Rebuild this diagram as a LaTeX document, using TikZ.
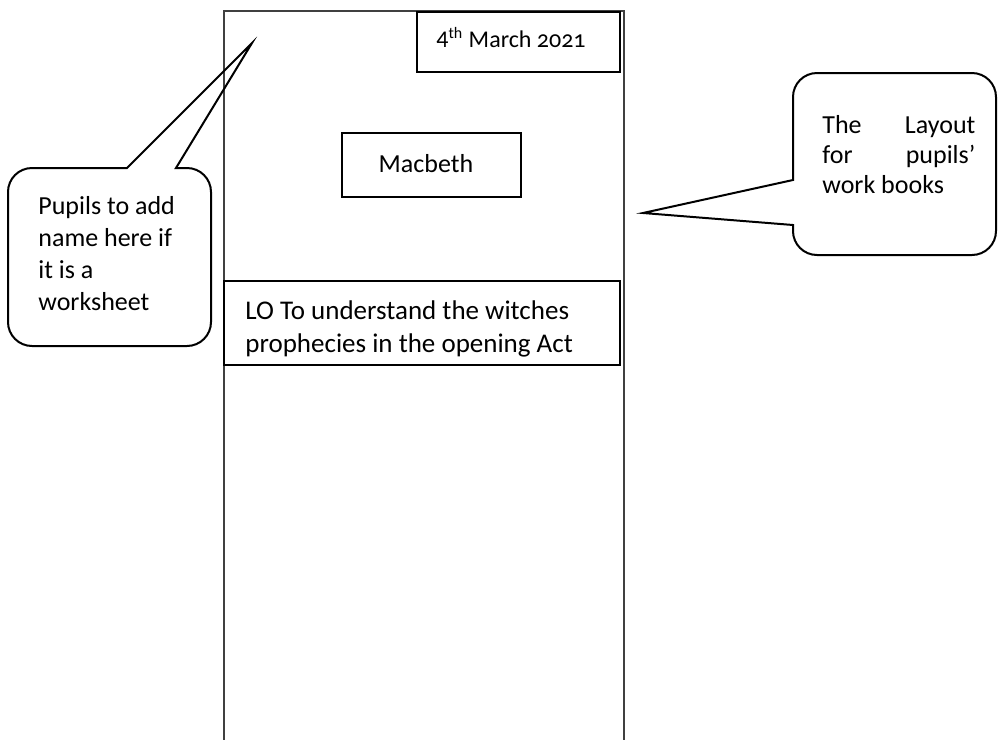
\documentclass[tikz,border=0pt]{standalone}
\usepackage{fontspec}
\setmainfont{Carlito}

\begin{document}
\begin{tikzpicture}[x=0.5pt,y=-0.5pt,
    frame/.style={draw, line width=1pt},
    bubble/.style={draw, line width=1pt, line join=miter},
    txt/.style={inner sep=0pt, anchor=base west, align=flush left, font=\fontsize{13}{16}\selectfont}]
    \useasboundingbox (0,0) rectangle (998,740);

    % the page of the work book
    \draw [line width=0.75pt, black!75] (224,740) -- (224,11) -- (624,11) -- (624,740);

    \draw [frame] (417,12) rectangle (620,72);
    \node [txt, anchor=base, font=\fontsize{12}{14}\selectfont] (date) at (511,47)
        {4\textsuperscript{th} March {\addfontfeatures{Numbers=OldStyle}2021}};

    \draw [frame] (342,133) rectangle (521,197);
    \node [txt, anchor=base] (title) at (426,172) {Macbeth};

    \draw [frame] (224,281) rectangle (620,365);
    \node [txt, text width=180pt, font=\fontsize{13.5}{16.5}\selectfont] (lo) at (245,319)
        {LO To understand the witches\\prophecies in the opening Act};

    % left callout
    \draw [bubble] (8,250) -- (8,322) arc[start angle=180, end angle=270, radius=12pt]
        -- (187,346) arc[start angle=270, end angle=360, radius=12pt]
        -- (211,192) arc[start angle=0, end angle=90, radius=12pt]
        -- (176,168) -- (252,43) -- (127,168)
        -- (32,168) arc[start angle=90, end angle=180, radius=12pt] -- cycle;
    \node [txt, text width=85pt] (pupils) at (38,214) {Pupils to add\\name here if\\it is a\\worksheet};

    % right callout
    \draw [bubble] (793,225) -- (643,213) -- (793,180)
        -- (793,97) arc[start angle=180, end angle=90, radius=12pt]
        -- (972,73) arc[start angle=90, end angle=0, radius=12pt]
        -- (996,231) arc[start angle=0, end angle=-90, radius=12pt]
        -- (817,255) arc[start angle=-90, end angle=-180, radius=12pt] -- cycle;
    \node [txt, text width=76.5pt, font=\fontsize{13}{15}\selectfont] (layout) at (822,133)
        {The\hfill Layout\\for\hfill pupils'\\work books};
\end{tikzpicture}
\end{document}
